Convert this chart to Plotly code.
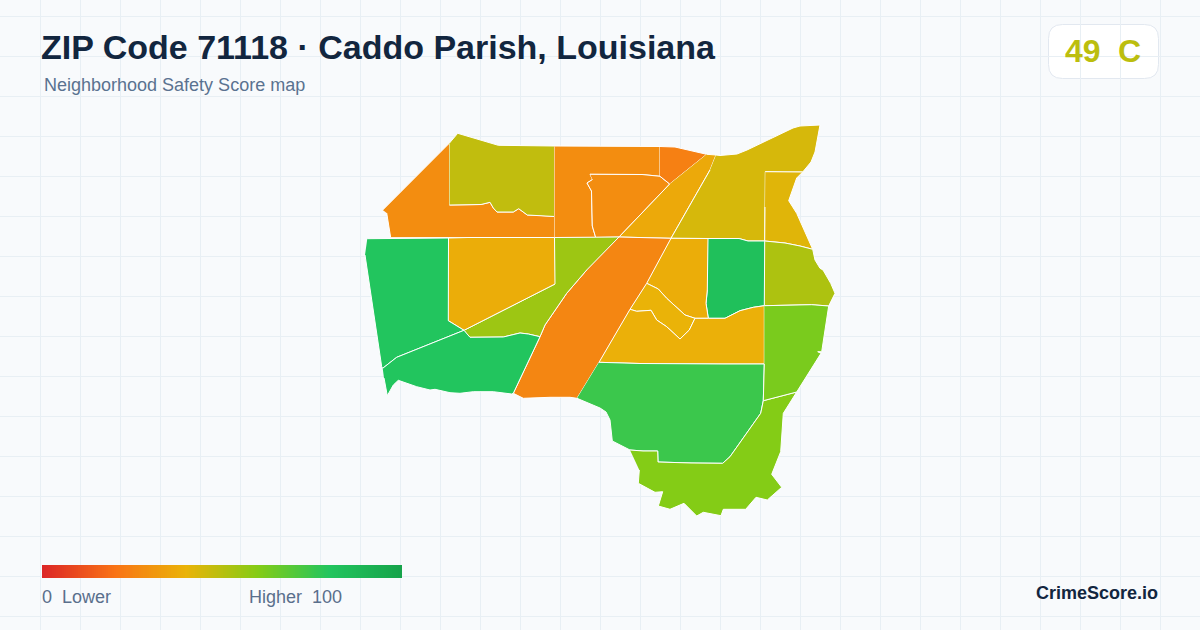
import numpy as np
import plotly.graph_objects as go
from plotly.colors import sample_colorscale

title_text = "ZIP Code 71118 · Caddo Parish, Louisiana"
subtitle_text = "Neighborhood Safety Score map"
grade_score = 49
grade_letter = "C"

score_colors = [[0.0, "#dc2626"], [0.2, "#f97316"], [0.4, "#eab308"],
                [0.6, "#84cc16"], [0.8, "#22c55e"], [1.0, "#16a34a"]]

# outlines, in image units, one list per neighborhood
northwest = [(382.7,210),(449.5,143),(449.5,205),(481,204.5),(490,202.3),(493.3,208),(497,212),(513.3,212),(518.7,208.7),(527.3,215),(541,215.5),(554.5,216.5),(554.5,237.5),(468,237.5),(390.7,237.7),(386.7,213)]
north_olive = [(449.5,143),(457.7,133.3),(498.3,145.3),(554.5,146),(554.5,216.5),(541,215.5),(527.3,215),(518.7,208.7),(513.3,212),(497,212),(493.3,208),(490,202.3),(481,204.5),(449.5,205)]
north_mid = [(554.5,146),(660,146.5),(660,176.3),(642,174.5),(590,174.3),(592.5,179.5),(587,183),(591.5,191),(592.3,226),(595.7,237.5),(554.5,237.5)]
north_inner = [(590,174.3),(642,174.5),(660,176.3),(669.7,184),(619,237),(595.7,237.5),(592.3,226),(591.5,191),(587,183),(592.5,179.5)]
north_tip = [(660,146.5),(675,147),(706.7,154.3),(669.7,184),(660,176.3)]
diagonal_top = [(706.7,154.3),(716,155),(710,170),(671,238.3),(645,237.7),(619,237),(669.7,184)]
northeast = [(716,155),(720,155.5),(737,154),(747,150),(793,128),(800,126),(820,125),(815,152),(811,162),(802.7,172),(784,172),(765.3,171.7),(765,207),(764.7,241),(748,241),(739,238.5),(708,238.5),(671,238.3),(710,170)]
east_notch = [(765.3,171.7),(784,172),(802.7,172),(796.7,178),(788.7,200.7),(796.7,213.3),(812.7,249.3),(800,246),(785,243),(764.7,241),(765,207)]
east_upper = [(764.7,241),(785,243),(800,246),(812.7,249.3),(815,260),(820,268.3),(823,270),(830.7,283.3),(835,293.3),(828.7,306),(811.7,304.7),(783.3,305),(764.3,305.7)]
center_green = [(708,238.5),(739,238.5),(748,241),(764.7,241),(764.3,305.7),(753.3,307.3),(740,310.7),(725,318.3),(708.3,318.3),(706,303.3),(707.3,290)]
center_upper = [(671,238.3),(708,238.5),(707.3,290),(706,303.3),(708.3,318.3),(695,318.3),(685,315),(666.7,298.3),(658.3,289),(646.7,283.3)]
center_small = [(646.7,283.3),(658.3,289),(666.7,298.3),(685,315),(695,318.3),(689.3,330),(680,339),(666.7,326.7),(656.7,320),(651,310.3),(636.7,311.3),(630,309.3)]
center_lower = [(630,309.3),(636.7,311.3),(651,310.3),(656.7,320),(666.7,326.7),(680,339),(689.3,330),(695,318.3),(708.3,318.3),(725,318.3),(740,310.7),(753.3,307.3),(764.3,305.7),(764.3,364),(723,364),(640,363.5),(599,362.3)]
diagonal_main = [(619,237),(645,237.7),(671,238.3),(646.7,283.3),(630,309.3),(599,362.3),(577,398.3),(570,397.3),(550,397.3),(523.3,398.3),(513.3,393.3),(540,336.7),(545,325),(566.7,293.3),(586.7,270)]
west_wedge = [(554.5,237.5),(619,237),(586.7,270),(566.7,293.3),(545,325),(540,336.7),(528.3,334),(520,333),(503.3,337),(470,337.3),(466,333),(464,330.3),(555,284)]
west_center = [(448.5,238),(468,237.5),(554.5,237.5),(555,284),(464,330.3),(448.3,320.7)]
west_green = [(367.3,238.7),(448.5,238),(448.3,320.7),(464,330.3),(396.7,357.3),(382.7,368.3),(381.7,366.7),(366.7,270),(365,255)]
southwest = [(382.7,368.3),(396.7,357.3),(464,330.3),(466,333),(470,337.3),(503.3,337),(520,333),(528.3,334),(540,336.7),(513.3,393.3),(511.7,394),(493.3,391.7),(473.3,391.7),(460,393.3),(450,392.7),(435,389.3),(430,390),(416.7,386.7),(403.3,381.7),(398.3,380.3),(393.3,385),(387.3,395.7),(384,378)]
south_green = [(599,362.3),(640,363.5),(723,364),(764.3,364),(763.3,400.7),(760.7,413.3),(730,456.7),(722.7,463.3),(691,463),(658,462),(657.7,451),(643,451),(630,450),(612.3,441),(610,420),(606,412),(600,408),(577,398.3)]
south_lime = [(630,450),(643,451),(657.7,451),(658,462),(691,463),(722.7,463.3),(730,456.7),(760.7,413.3),(763.3,400.7),(796.7,392),(783.3,413.3),(782.3,430),(780.7,451.7),(771.7,474.3),(781.7,487.3),(767.3,500),(756,497.3),(745.7,509.3),(723.3,509.3),(721,515.7),(703.3,512.3),(696.7,516),(684,503.3),(670,509.3),(658.3,506),(662.7,491.7),(655,492.3),(638.3,483.3),(639.3,470)]
east_lower = [(764.3,305.7),(783.3,305),(811.7,304.7),(828.7,306),(821.7,351.7),(817.7,351.7),(821,353.3),(796.7,392),(763.3,400.7),(764.3,364)]

outlines = [northwest, north_olive, north_mid, north_inner, north_tip, diagonal_top, northeast,
            east_notch, east_upper, center_green, center_upper, center_small, center_lower,
            diagonal_main, west_wedge, west_center, west_green, southwest, south_green,
            south_lime, east_lower]
scores = [28, 48, 28, 28, 24, 37, 44, 42, 52, 83, 38, 40, 39, 26, 55, 38, 80, 80, 75, 60, 62]

fig = go.Figure()

for outline, score in zip(outlines, scores):
    xs = [p[0] for p in outline]
    ys = [p[1] for p in outline]
    color = sample_colorscale(score_colors, score / 100)[0]
    fig.add_trace(go.Scatter(x=xs, y=ys, mode="lines", fill="toself", fillcolor=color,
                             line=dict(color="white", width=1), hoverinfo="skip", showlegend=False))

# legend ramp
ramp = np.linspace(0, 100, 181)
ramp_x = np.linspace(42, 402, 182)
fig.add_trace(go.Heatmap(x=ramp_x, y=[565, 578], z=[ramp], zmin=0, zmax=100, colorscale=score_colors,
                         showscale=False, hoverinfo="skip"))

grade_color = sample_colorscale(score_colors, grade_score / 100)[0]


def label(x, y, text, size, color, anchor="left", bold=False):
    fig.add_annotation(x=x, y=y, xref="x", yref="y", text="<b>" + text + "</b>" if bold else text,
                       showarrow=False, xanchor=anchor, yanchor="middle",
                       font=dict(family="Liberation Sans", size=size, color=color))


label(39, 47, title_text, 34, "#12263f", bold=True)
label(42, 85, subtitle_text, 18, "#5a7290")
label(1063, 51, str(grade_score), 32, grade_color, bold=True)
label(1116, 51, grade_letter, 32, grade_color, bold=True)
label(40, 597, "0\u00a0\u00a0Lower", 18, "#5a6f8c")
label(247, 597, "Higher\u00a0\u00a0100", 18, "#5a6f8c")
label(1160, 593, "CrimeScore.io", 18, "#12263f", anchor="right", bold=True)

r = 14
x0, x1, y0, y1 = 1048.5, 1158.5, 24.5, 78.5
badge_path = (f"M {x0+r} {y0} L {x1-r} {y0} Q {x1} {y0} {x1} {y0+r} L {x1} {y1-r} Q {x1} {y1} {x1-r} {y1} "
              f"L {x0+r} {y1} Q {x0} {y1} {x0} {y1-r} L {x0} {y0+r} Q {x0} {y0} {x0+r} {y0} Z")

fig.update_layout(
    width=1200, height=630,
    margin=dict(l=0, r=0, t=0, b=0),
    paper_bgcolor="#f8fafc",
    plot_bgcolor="#f8fafc",
    shapes=[
        dict(type="rect", xref="x", yref="y", x0=0, x1=1200, y0=0, y1=96, layer="below",
             fillcolor="#f8fafc", line=dict(width=0)),
        dict(type="path", xref="x", yref="y", path=badge_path, layer="below",
             fillcolor="#ffffff", line=dict(color="#e2e8f0", width=1)),
    ],
)
fig.update_xaxes(range=[0, 1200], tick0=40.5, dtick=40, showgrid=True, gridcolor="#e8eff4", gridwidth=1,
                 zeroline=False, showticklabels=False, ticks="", fixedrange=True)
fig.update_yaxes(range=[630, 0], tick0=96.5, dtick=40, showgrid=True, gridcolor="#e8eff4", gridwidth=1,
                 zeroline=False, showticklabels=False, ticks="", fixedrange=True)

# the page has a default 8px body margin, drop it so the figure fills the window
fig.write_html("out.html", config=dict(displayModeBar=False),
               post_script="document.body.style.margin='0';document.body.style.background='#f8fafc';")
